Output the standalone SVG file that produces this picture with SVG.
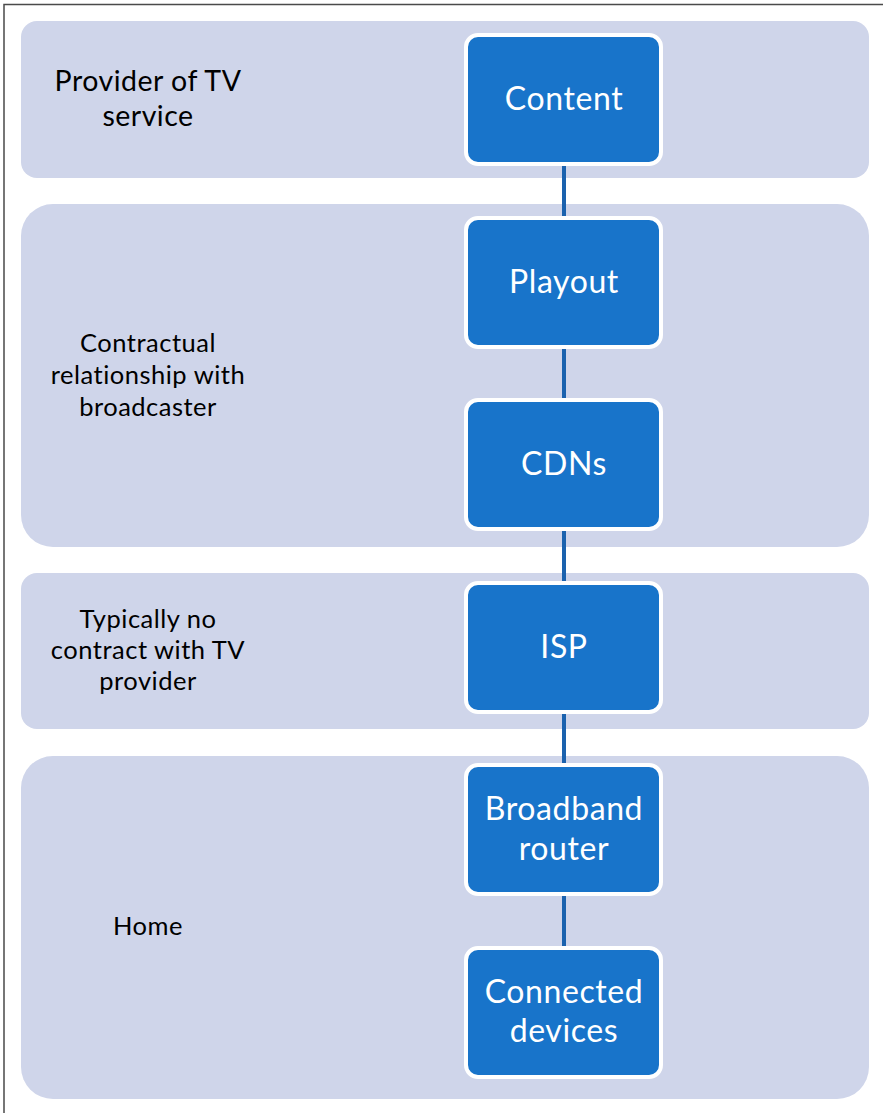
<svg xmlns="http://www.w3.org/2000/svg" width="883" height="1113" viewBox="0 0 883 1113">
<style>
.band{fill:#CFD5EA}
.node rect{fill:#1874CA;stroke:#FFFFFF;stroke-width:4}
.nt{font-family:Lato,"Liberation Sans",sans-serif;font-size:32px;letter-spacing:0.6px;fill:#FFFFFF;text-anchor:middle}
.lt{font-family:Lato,"Liberation Sans",sans-serif;fill:#000000;text-anchor:middle;letter-spacing:0.5px}
.conn line{stroke:#1B62AE;stroke-width:4}
</style>
<rect x="0" y="0" width="883" height="1113" fill="#FFFFFF"/>
<path d="M4,1113 V4.5 H883" fill="none" stroke="#4A4A4A" stroke-width="1.5"/>
<g id="band1"><rect class="band" x="21" y="21" width="848" height="157" rx="16"/>
<text class="lt" font-size="28.5" x="148" y="91">Provider of TV</text>
<text class="lt" font-size="28.5" x="148" y="126">service</text></g>
<g id="band2"><rect class="band" x="21" y="204" width="848" height="343" rx="32"/>
<text class="lt" font-size="25.5" x="148" y="352">Contractual</text>
<text class="lt" font-size="25.5" x="148" y="384">relationship with</text>
<text class="lt" font-size="25.5" x="148" y="416">broadcaster</text></g>
<g id="band3"><rect class="band" x="21" y="573" width="848" height="156" rx="16"/>
<text class="lt" font-size="25.5" x="148" y="628">Typically no</text>
<text class="lt" font-size="25.5" x="148" y="659">contract with TV</text>
<text class="lt" font-size="25.5" x="148" y="690">provider</text></g>
<g id="band4"><rect class="band" x="21" y="756" width="848" height="343" rx="32"/>
<text class="lt" font-size="25.5" x="148" y="935">Home</text></g>
<g id="connectors" class="conn">
<line x1="564" y1="165" x2="564" y2="217"/>
<line x1="564" y1="348" x2="564" y2="399"/>
<line x1="564" y1="530" x2="564" y2="582"/>
<line x1="564" y1="713" x2="564" y2="764"/>
<line x1="564" y1="895" x2="564" y2="947"/>
</g>
<g id="content" class="node"><rect x="466" y="35" width="195" height="129" rx="12"/><text class="nt" x="564" y="110">Content</text></g>
<g id="playout" class="node"><rect x="466" y="218" width="195" height="129" rx="12"/><text class="nt" x="564" y="293">Playout</text></g>
<g id="cdns" class="node"><rect x="466" y="400" width="195" height="129" rx="12"/><text class="nt" x="564" y="475">CDNs</text></g>
<g id="isp" class="node"><rect x="466" y="583" width="195" height="129" rx="12"/><text class="nt" x="564" y="658">ISP</text></g>
<g id="router" class="node"><rect x="466" y="765" width="195" height="129" rx="12"/><text class="nt" x="564" y="820">Broadband</text><text class="nt" x="564" y="860">router</text></g>
<g id="devices" class="node"><rect x="466" y="948" width="195" height="129" rx="12"/><text class="nt" x="564" y="1003">Connected</text><text class="nt" x="564" y="1042">devices</text></g>
</svg>
